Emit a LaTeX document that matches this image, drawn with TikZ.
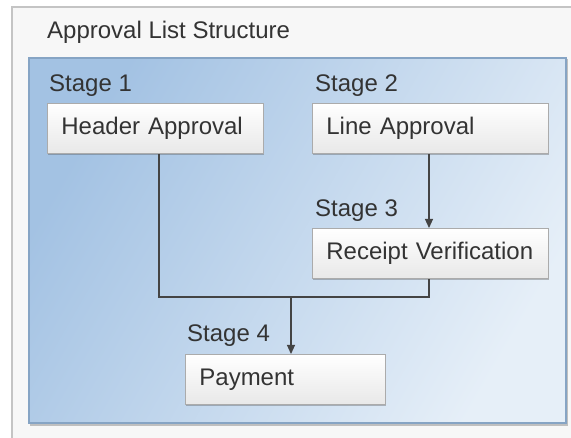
\documentclass[tikz,border=0pt]{standalone}
\usepackage{fontspec}
\setmainfont{Liberation Sans}
\usetikzlibrary{arrows.meta,shadows}
\definecolor{txt}{HTML}{333333}
\definecolor{outerfill}{HTML}{F7F7F7}
\definecolor{outerline}{HTML}{C4C4C4}
\definecolor{innerline}{HTML}{86A4C4}
\definecolor{boxline}{HTML}{ABABAB}
\definecolor{conn}{HTML}{444444}
\definecolor{blueA}{HTML}{A3C2E3}
\definecolor{blueB}{HTML}{E6EFF8}
\tikzset{
  stagebox/.style={rectangle, draw=boxline, line width=0.8pt,
    top color=white, bottom color=black!9,
    drop shadow={shadow xshift=0.8pt, shadow yshift=-1.6pt, opacity=0.35, fill=black!70},
    minimum height=50pt, inner xsep=14pt, inner ysep=0pt, align=left,
    anchor=north west, text=txt, font=\fontsize{24}{28}\selectfont},
  stagelabel/.style={anchor=base west, inner sep=0pt, text=txt, font=\fontsize{24}{28}\selectfont},
  link/.style={draw=conn, line width=1.1pt},
  arrowlink/.style={link, -{Triangle[length=9pt,width=8pt]}}
}
\begin{document}
\begin{tikzpicture}[x=1pt,y=-1pt]
\useasboundingbox (0,0) rectangle (571,438);
\begin{scope}
\clip (0,0) rectangle (571,438);
% outer panel
\fill[white] (0,0) rectangle (571,438);
\filldraw[fill=outerfill, draw=outerline, line width=1.6pt] (12,7) rectangle (590,460);
% inner blue panel
\fill[black!25] (30,59) rectangle (568,426);
\shade[left color=blueA, right color=blueB, shading angle=60]
  (29,58) rectangle (566,423);
\draw[innerline, line width=1.3pt] (29,58) rectangle (566,423);
\end{scope}

\node[stagelabel] (title) at (47,39) {Approval List Structure};

\node[stagelabel] (s1) at (49,92) {Stage 1};
\node[stagelabel] (s2) at (315,92) {Stage 2};
\node[stagelabel] (s3) at (315,217) {Stage 3};
\node[stagelabel] (s4) at (187,342) {Stage 4};

\node[stagebox, minimum width=216pt, text width=188pt] (ha) at (47,103) {Header Approval};
\node[stagebox, minimum width=236pt, text width=208pt] (la) at (312,103) {Line Approval};
\node[stagebox, minimum width=236pt, text width=208pt] (rv) at (312,228) {Receipt Verification};
\node[stagebox, minimum width=200pt, text width=172pt] (pay) at (185,354) {Payment};

\coordinate (jl) at (159,297);
\coordinate (jr) at (429,297);
\coordinate (jm) at (291,297);

\draw[link] (ha.south -| jl) -- (jl) -- (jr) -- (rv.south -| jr);
\draw[arrowlink] (la.south -| jr) -- (rv.north -| jr);
\draw[arrowlink] (jm) -- (pay.north -| jm);
\end{tikzpicture}
\end{document}
